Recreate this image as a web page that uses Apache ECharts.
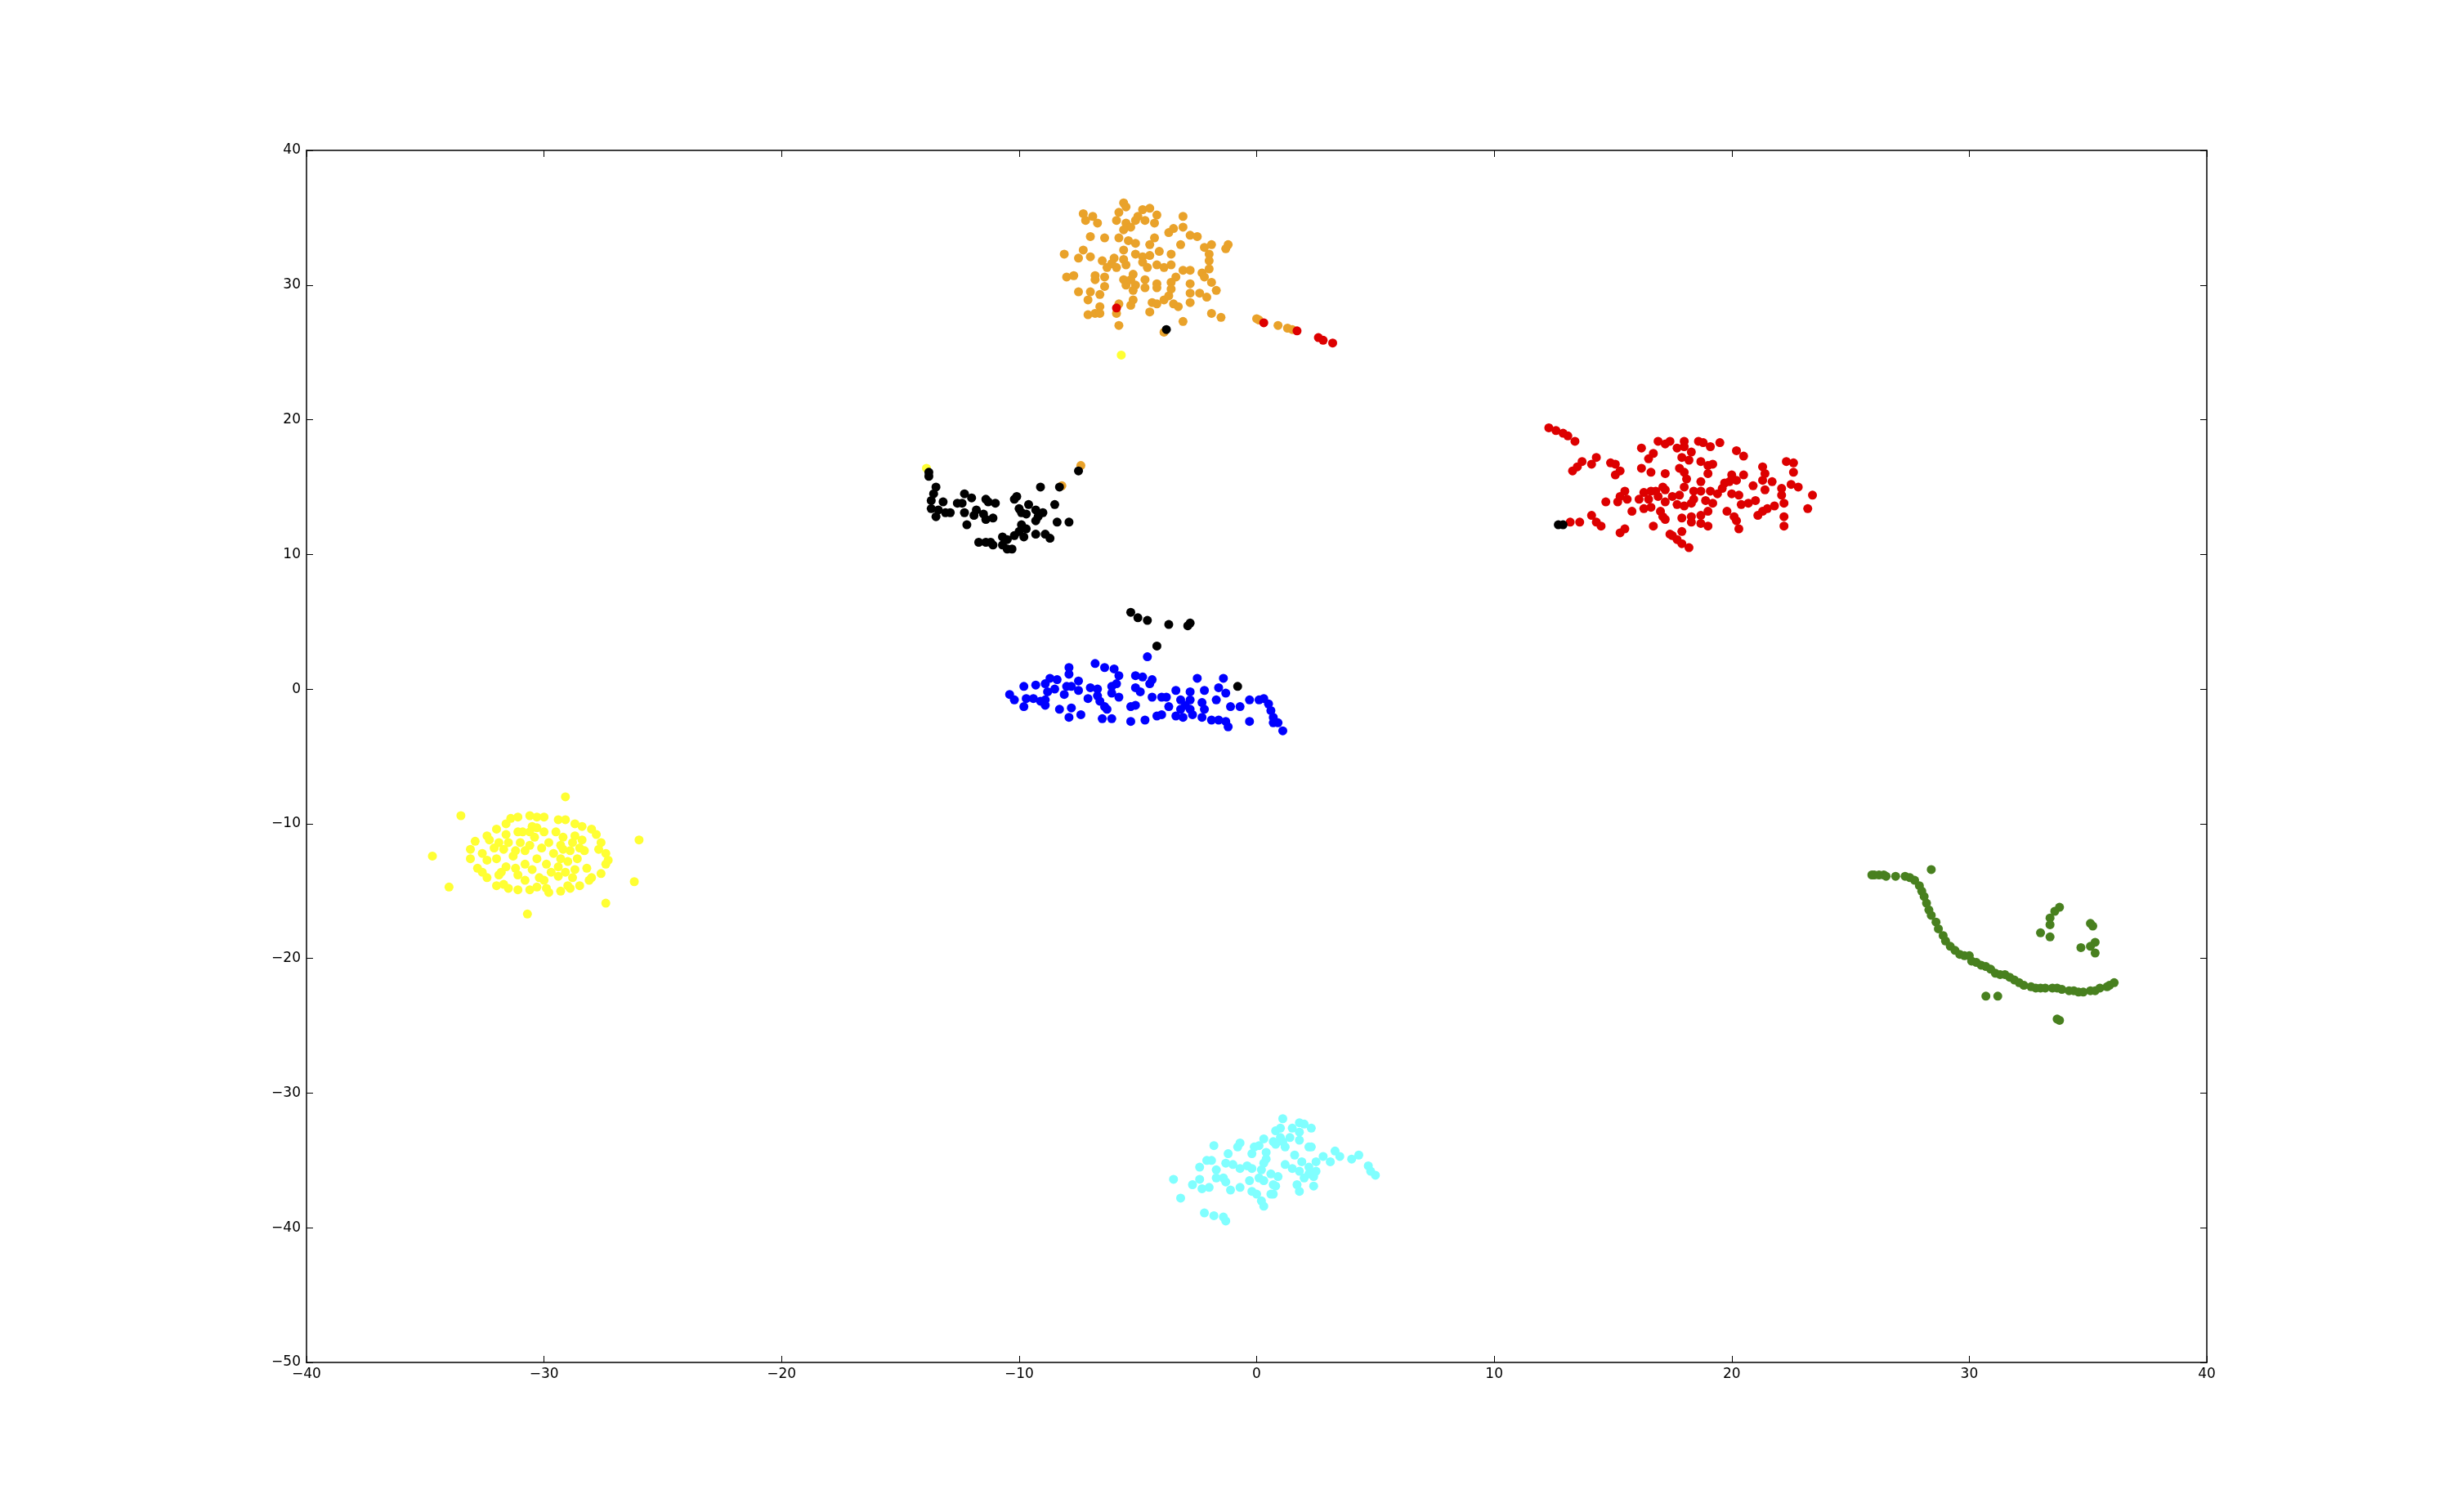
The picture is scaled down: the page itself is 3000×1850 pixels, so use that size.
<!DOCTYPE html>
<html>
<head>
<meta charset="utf-8">
<script src="https://cdn.jsdelivr.net/npm/echarts@6.0.0/dist/echarts.min.js"></script>
<style>
  html, body { margin: 0; padding: 0; background: #fff; }
  #chart { width: 3000px; height: 1850px; }
</style>
</head>
<body>
<div id="chart"></div>
<script>
// tick values
const xTicks = [-40, -30, -20, -10, 0, 10, 20, 30, 40]
const yTicks = [-50, -40, -30, -20, -10, 0, 10, 20, 30, 40]

// points per label, [x, y]
const orangePts = [
  [-5.6,36.1],[-5.5,35.8],[-7.3,35.3],[-6.9,35.1],[-7.2,34.8],[-6.7,34.6],[-5.8,35.4],[-5.9,34.8],
  [-4.8,35.6],[-4.5,35.7],[-4.2,35.2],[-5.0,35.1],[-4.7,34.8],[-4.3,34.6],[-5.1,34.8],[-5.5,34.6],
  [-5.3,34.3],[-5.6,34.1],[-5.8,33.5],[-5.4,33.3],[-7.0,33.6],[-6.4,33.5],[-3.1,35.1],[-3.1,34.3],
  [-3.7,33.9],[-3.5,34.2],[-4.3,33.5],[-4.5,33.0],[-5.1,33.1],[-5.6,32.6],[-5.1,32.3],[-4.8,32.1],
  [-4.5,32.2],[-4.1,32.5],[-3.6,32.3],[-3.2,33.0],[-2.8,33.7],[-2.5,33.6],[-2.2,32.8],[-1.9,33.0],
  [-1.2,33.0],[-1.3,32.7],[-2.0,32.3],[-2.0,31.8],[-2.0,31.2],[-2.3,30.9],[-8.1,32.3],[-7.5,32.0],
  [-7.3,32.6],[-7.0,32.1],[-6.5,31.8],[-6.0,32.0],[-5.6,31.9],[-5.5,31.5],[-6.3,31.3],[-5.9,31.3],
  [-6.1,31.6],[-4.8,31.7],[-4.6,31.3],[-4.2,31.5],[-3.9,31.3],[-3.6,31.5],[-3.1,31.1],[-2.8,31.1],
  [-3.4,30.6],[-2.2,30.6],[-8.0,30.6],[-7.7,30.7],[-6.8,30.7],[-6.8,30.4],[-6.4,30.6],[-6.4,29.9],
  [-5.6,30.4],[-5.5,30.0],[-5.2,30.8],[-5.3,30.4],[-4.7,30.4],[-4.2,30.1],[-4.2,29.8],[-3.6,30.2],
  [-3.6,29.7],[-2.8,30.1],[-1.9,30.2],[-1.7,29.6],[-2.1,29.1],[-2.4,29.4],[-2.8,29.4],[-7.5,29.5],
  [-7.0,29.5],[-7.1,28.9],[-6.6,29.3],[-5.1,30.0],[-5.2,29.6],[-4.7,29.8],[-5.2,28.9],[-5.3,28.5],
  [-4.4,28.7],[-4.2,28.6],[-3.9,28.9],[-3.7,29.2],[-3.5,28.6],[-3.3,28.4],[-2.8,28.7],[-7.1,27.8],
  [-6.8,27.9],[-6.6,27.9],[-6.6,28.4],[-5.9,27.9],[-5.8,28.6],[-5.8,27.0],[-4.5,28.0],[-3.1,27.3],
  [-1.9,27.9],[-1.5,27.6],[0.0,27.5],[0.1,27.4],[0.9,27.0],[1.3,26.8],[1.5,26.7],[-3.9,26.5],
  [-7.4,16.6],[-8.2,15.1]
]
const redPts = [
  [-5.9,28.3],[0.3,27.2],[1.7,26.6],[2.6,26.1],[2.8,25.9],[3.2,25.7],
  [12.3,19.4],[12.6,19.2],[12.9,19.0],[13.1,18.8],[13.4,18.4],[13.3,16.2],[13.5,16.5],[13.7,16.9],
  [14.1,16.7],[14.3,17.2],[14.9,16.8],[15.1,16.7],[15.3,16.2],[15.1,15.9],[16.2,17.9],[16.2,16.4],
  [16.6,16.1],[16.5,17.1],[16.7,17.5],[16.9,18.4],[17.2,18.2],[17.4,18.4],[17.7,17.9],[18.0,18.4],
  [18.0,18.0],[18.3,17.6],[17.9,17.2],[18.2,17.0],[18.7,16.9],[18.6,18.4],[18.8,18.3],[19.1,18.0],
  [19.5,18.3],[19.0,16.6],[19.2,16.7],[19.0,16.0],[17.8,16.4],[18.0,16.1],[18.1,15.6],[17.2,16.0],
  [20.2,17.7],[20.5,17.3],[20.0,15.9],[20.5,15.9],[19.7,15.3],[19.6,14.9],[19.9,15.4],[20.2,15.5],
  [18.7,15.4],[18.4,14.7],[18.7,14.7],[18.0,15.0],[17.1,15.0],[17.2,14.8],[17.8,14.4],[19.1,14.7],
  [19.4,14.5],[15.5,14.7],[15.3,14.3],[15.2,13.9],[15.6,14.1],[14.7,13.9],[16.1,14.1],[16.3,14.6],
  [16.6,14.7],[16.8,14.7],[16.5,14.1],[16.9,14.3],[17.2,13.9],[17.5,14.3],[17.7,13.7],[18.0,13.6],
  [18.3,13.8],[18.4,14.1],[18.9,14.0],[19.2,13.8],[16.3,13.4],[16.6,13.5],[15.8,13.2],[17.0,13.2],
  [17.1,12.8],[17.2,12.6],[17.9,12.7],[18.3,12.8],[18.3,12.4],[18.7,12.9],[19.0,13.2],[18.7,12.3],
  [19.0,12.1],[20.0,14.5],[20.3,14.4],[20.4,13.7],[20.7,13.8],[21.0,14.0],[20.9,15.1],[21.3,16.5],
  [21.4,16.0],[21.3,15.5],[21.4,14.8],[21.7,15.4],[22.1,14.9],[22.1,14.4],[22.3,16.9],[22.6,16.8],
  [22.6,16.1],[22.5,15.2],[22.8,15.0],[23.4,14.4],[23.2,13.4],[22.2,13.8],[21.8,13.6],[21.5,13.4],
  [21.3,13.2],[21.1,12.9],[22.2,12.8],[22.2,12.1],[19.8,13.2],[20.1,12.8],[20.2,12.5],[20.3,11.9],
  [14.1,12.9],[14.3,12.4],[14.5,12.1],[15.3,11.6],[15.5,11.9],[16.7,12.1],[17.4,11.5],[17.5,11.4],
  [17.9,11.7],[17.7,11.1],[17.9,10.8],[18.2,10.5],[13.2,12.4],[13.6,12.4]
]
const blackPts = [
  [-3.8,26.7],
  [-13.8,16.1],[-13.8,15.8],[-13.5,15.0],[-13.6,14.5],[-13.7,14.0],[-13.7,13.4],[-13.4,13.3],[-13.2,13.9],
  [-13.1,13.1],[-12.9,13.1],[-13.5,12.8],[-12.6,13.8],[-12.4,13.8],[-12.3,14.5],[-12.0,14.2],[-12.3,13.1],
  [-11.9,12.9],[-11.8,13.3],[-11.5,13.0],[-11.4,12.6],[-11.1,12.7],[-11.4,14.1],[-11.3,13.9],[-11.0,13.8],
  [-12.2,12.2],[-11.7,10.9],[-11.4,10.9],[-11.2,10.9],[-11.1,10.7],[-10.7,11.3],[-10.7,10.7],[-10.5,10.4],
  [-10.3,10.4],[-10.5,11.1],[-10.2,11.4],[-10.0,11.7],[-9.9,12.2],[-9.8,11.3],[-9.7,11.9],[-10.1,14.3],
  [-10.2,14.1],[-10.0,13.4],[-9.6,13.7],[-9.3,13.3],[-9.9,13.1],[-9.7,13.0],[-9.3,12.5],[-9.2,12.8],
  [-9.0,13.1],[-9.3,11.5],[-8.9,11.5],[-8.7,11.2],[-9.1,15.0],[-8.3,15.0],[-8.5,13.7],[-8.4,12.4],
  [-7.9,12.4],[-7.5,16.2],
  [-5.3,5.7],[-5.0,5.3],[-4.6,5.1],[-3.7,4.8],[-2.9,4.7],[-2.8,4.9],[-4.2,3.2],[-0.8,0.2],
  [12.7,12.2],[12.9,12.2]
]
const bluePts = [
  [-4.6,2.4],[-6.8,1.9],[-6.4,1.6],[-6.0,1.5],[-5.8,1.0],[-7.9,1.6],[-7.9,1.1],[-8.7,0.8],[-8.4,0.7],
  [-7.5,0.6],[-7.8,0.2],[-8.0,0.2],[-8.9,0.4],[-8.5,0.0],[-8.8,-0.2],[-9.3,0.3],[-9.8,0.2],[-10.4,-0.4],
  [-10.2,-0.8],[-9.7,-0.7],[-9.4,-0.7],[-9.1,-0.9],[-8.9,-0.8],[-8.9,-1.2],[-9.8,-1.3],[-8.1,-0.4],
  [-7.5,-0.1],[-7.0,0.1],[-7.1,-0.7],[-6.7,0.0],[-6.7,-0.5],[-6.6,-0.9],[-6.1,0.2],[-5.9,0.4],
  [-6.1,-0.3],[-5.8,-0.6],[-6.4,-1.3],[-6.3,-1.5],[-8.3,-1.5],[-7.8,-1.4],[-7.9,-2.1],[-7.4,-1.9],
  [-6.5,-2.2],[-6.1,-2.2],[-5.1,1.0],[-4.8,0.9],[-4.4,0.7],[-4.5,0.4],[-5.1,0.1],[-4.9,-0.2],
  [-4.4,-0.6],[-4.0,-0.6],[-3.8,-0.6],[-5.3,-1.3],[-5.1,-1.2],[-5.3,-2.4],[-4.7,-2.3],[-4.2,-2.0],
  [-4.0,-1.9],[-3.7,-1.3],[-3.4,-0.1],[-3.2,-0.8],[-3.2,-1.5],[-3.4,-2.0],[-3.0,-1.2],[-2.8,-0.2],
  [-2.5,0.8],[-2.8,-0.8],[-2.7,-1.9],[-2.3,-1.0],[-2.2,-1.5],[-2.2,-0.1],[-1.7,-0.8],[-1.6,0.1],
  [-1.4,0.8],[-1.3,-0.3],[-1.9,-2.3],[-1.6,-2.3],[-1.3,-2.4],[-1.2,-2.8],[-2.3,-2.1],[-1.1,-1.3],
  [-0.7,-1.3],[-0.3,-0.8],[0.1,-0.8],[0.3,-0.7],[0.5,-1.1],[0.6,-1.6],[0.7,-2.1],[0.7,-2.5],
  [0.9,-2.5],[1.1,-3.1],[-0.3,-2.4],[-2.8,-1.5],[-3.1,-2.1]
]
const yellowPts = [
  [-5.7,24.8],[-13.9,16.4],
  [-29.1,-8.0],[-33.5,-9.4],[-26.0,-11.2],[-34.7,-12.4],[-34.0,-14.7],[-26.2,-14.3],[-27.4,-15.9],[-30.7,-16.7],
  [-33.1,-11.9],[-33.1,-12.6],[-32.9,-11.3],[-32.8,-13.3],[-32.6,-13.6],[-32.4,-10.9],[-32.4,-14.0],[-32.0,-14.6],
  [-32.0,-10.4],[-31.6,-10.0],[-31.7,-14.5],[-31.5,-14.8],[-31.4,-9.6],[-31.1,-9.5],[-31.1,-14.9],[-30.6,-9.4],
  [-30.6,-14.9],[-30.3,-14.7],[-30.3,-9.5],[-30.0,-9.5],[-29.9,-14.8],[-29.8,-15.1],[-29.4,-9.7],[-29.3,-15.0],
  [-29.1,-9.7],[-28.9,-14.8],[-29.0,-14.6],[-28.7,-10.0],[-28.5,-14.6],[-28.4,-10.2],[-28.1,-14.2],[-28.0,-10.4],
  [-27.8,-10.8],[-27.6,-11.4],[-27.7,-11.9],[-27.4,-12.2],[-27.3,-12.7],[-27.4,-13.0],[-27.6,-13.7],[-28.0,-14.0],
  [-28.2,-13.3],[-28.3,-12.0],[-28.4,-11.2],[-28.7,-10.9],[-29.2,-11.0],
  [-32.4,-12.7],[-32.1,-11.8],[-32.0,-12.6],[-31.9,-11.4],[-31.7,-11.9],[-31.6,-13.2],[-31.5,-11.4],[-31.3,-12.4],
  [-31.2,-13.3],[-31.1,-13.8],[-31.0,-11.4],[-30.9,-10.6],[-30.8,-12.0],[-30.8,-13.0],[-30.6,-11.6],[-30.5,-10.2],
  [-30.5,-13.4],[-30.4,-11.0],[-30.3,-12.6],[-30.2,-14.0],[-30.1,-11.8],[-30.0,-10.6],[-29.9,-13.0],[-29.8,-11.4],
  [-29.7,-13.6],[-29.6,-12.2],[-29.5,-10.6],[-29.4,-13.2],[-29.3,-11.6],[-29.3,-12.6],[-29.2,-11.9],[-29.1,-13.6],
  [-29.0,-12.8],[-28.9,-12.0],[-28.8,-11.4],[-28.7,-13.4],[-28.6,-12.6],[-28.5,-11.8],[-30.3,-10.3],[-30.6,-10.6],
  [-31.1,-10.6],[-31.2,-12.0],[-31.6,-10.8],[-31.8,-13.6],[-32.3,-11.2],[-32.6,-12.2],[-31.9,-13.8],[-30.8,-14.2],
  [-30.0,-14.2],[-29.4,-13.9],[-28.8,-14.0]
]
const greenPts = [
  [25.9,-13.8],[26.0,-13.8],[26.2,-13.8],[26.4,-13.8],[26.5,-13.9],[26.9,-13.9],[27.3,-13.9],[27.5,-14.0],
  [27.7,-14.2],[27.9,-14.6],[28.0,-15.0],[28.1,-15.4],[28.2,-15.9],[28.3,-16.4],[28.4,-16.8],[28.6,-17.3],
  [28.7,-17.8],[28.9,-18.3],[29.0,-18.7],[29.2,-19.1],[29.4,-19.4],[29.6,-19.7],[29.8,-19.8],[30.0,-19.8],
  [30.1,-20.2],[30.3,-20.3],[30.5,-20.5],[30.7,-20.6],[30.9,-20.8],[31.1,-21.1],[31.3,-21.2],[31.5,-21.2],
  [31.7,-21.4],[31.9,-21.6],[32.1,-21.8],[32.3,-22.0],[32.6,-22.1],[32.8,-22.2],[33.0,-22.2],[33.2,-22.2],
  [33.5,-22.2],[33.7,-22.2],[33.9,-22.3],[34.2,-22.4],[34.4,-22.4],[34.6,-22.5],[34.8,-22.5],[35.1,-22.4],
  [35.3,-22.4],[35.5,-22.2],[35.8,-22.1],[35.9,-22.0],[36.1,-21.8],
  [28.4,-13.4],[33.8,-16.2],[33.6,-16.5],[33.4,-17.0],[33.4,-17.5],[33.0,-18.1],[33.4,-18.4],[35.1,-17.4],
  [35.2,-17.6],[35.3,-18.8],[35.1,-19.1],[34.7,-19.2],[35.3,-19.6],[30.7,-22.8],[31.2,-22.8],[33.7,-24.5],
  [33.8,-24.6]
]
const cyanPts = [
  [1.1,-31.9],[1.0,-32.6],[0.8,-32.8],[1.5,-32.6],[1.8,-32.2],[2.0,-32.3],[2.3,-32.6],[1.8,-32.9],
  [1.8,-33.5],[1.4,-33.3],[1.1,-33.6],[1.0,-33.3],[0.8,-33.8],[0.7,-33.6],[1.2,-34.0],[0.3,-33.4],
  [0.1,-33.9],[-0.1,-34.0],[-0.2,-34.5],[0.4,-34.4],[0.4,-34.9],[0.3,-35.2],[0.2,-35.7],[0.6,-36.0],
  [0.9,-36.2],[0.1,-36.3],[0.3,-36.5],[0.7,-36.8],[0.8,-36.9],[0.6,-37.5],[0.7,-37.5],[1.6,-34.6],
  [1.9,-35.1],[2.2,-35.5],[2.5,-35.1],[2.8,-34.7],[3.1,-35.1],[3.3,-34.3],[3.5,-34.7],[4.0,-34.9],
  [4.3,-34.6],[4.7,-35.4],[5.0,-36.1],[4.8,-35.8],[2.2,-34.0],[2.3,-34.0],[1.2,-35.3],[1.5,-35.6],
  [1.8,-35.8],[2.2,-36.0],[2.0,-36.3],[2.4,-36.2],[2.5,-35.8],[1.7,-36.8],[1.8,-37.3],[2.4,-36.9],
  [-1.8,-33.9],[-0.7,-33.7],[-0.8,-34.0],[-1.2,-34.5],[-1.3,-35.2],[-1.0,-35.3],[-0.7,-35.6],[-0.4,-35.4],
  [-0.2,-35.6],[-2.4,-35.5],[-2.1,-35.0],[-1.9,-35.0],[-1.7,-35.7],[-3.5,-36.4],[-2.4,-36.4],[-2.7,-36.8],
  [-2.3,-37.1],[-2.0,-37.0],[-1.7,-36.3],[-1.4,-36.3],[-1.3,-36.6],[-1.1,-37.2],[-0.7,-37.0],[-0.3,-36.5],
  [-0.2,-37.3],[0.0,-37.5],[0.2,-38.0],[0.3,-38.4],[-3.2,-37.8],[-2.2,-38.9],[-1.8,-39.1],[-1.4,-39.2],
  [-1.3,-39.5]
]

const chart = echarts.init(document.getElementById('chart'))

const labelFont = {
  color: '#000',
  fontSize: 17,
  fontFamily: 'DejaVu Sans',
  formatter: v => String(v).replace('-', '\u2212')
}
const lineStyle = { color: '#000', width: 1.5 }
const tick = { show: true, inside: true, length: 8, lineStyle: { color: '#000', width: 1 } }

function valueAxis(ticks, pos, showLabel, isX) {
  return {
    type: 'value',
    position: pos,
    min: ticks[0],
    max: ticks[ticks.length - 1],
    interval: 10,
    axisLine: { show: true, onZero: false, lineStyle },
    axisTick: tick,
    splitLine: { show: false },
    axisLabel: Object.assign({ show: showLabel, margin: isX ? 6 : 7 }, labelFont)
  }
}

function scatter(name, pts, color) {
  return {
    name,
    type: 'scatter',
    xAxisIndex: 0,
    yAxisIndex: 0,
    symbol: 'circle',
    symbolSize: 11,
    itemStyle: { color, opacity: 1, borderWidth: 0 },
    emphasis: { disabled: true },
    data: pts
  }
}

const option = {
  backgroundColor: '#fff',
  animation: false,
  grid: { left: 375, right: 300, top: 184, bottom: 183 },
  xAxis: [
    valueAxis(xTicks, 'bottom', true, true),
    valueAxis(xTicks, 'top', false, true)
  ],
  yAxis: [
    valueAxis(yTicks, 'left', true, false),
    valueAxis(yTicks, 'right', false, false)
  ],
  series: [
    scatter('yellow', yellowPts, '#FFFF33'),
    scatter('orange', orangePts, '#E9A22A'),
    scatter('cyan', cyanPts, '#80FFFF'),
    scatter('green', greenPts, '#48801F'),
    scatter('blue', bluePts, '#0000FF'),
    scatter('red', redPts, '#DD0000'),
    scatter('black', blackPts, '#000000')
  ]
}

chart.setOption(option)
</script>
</body>
</html>
